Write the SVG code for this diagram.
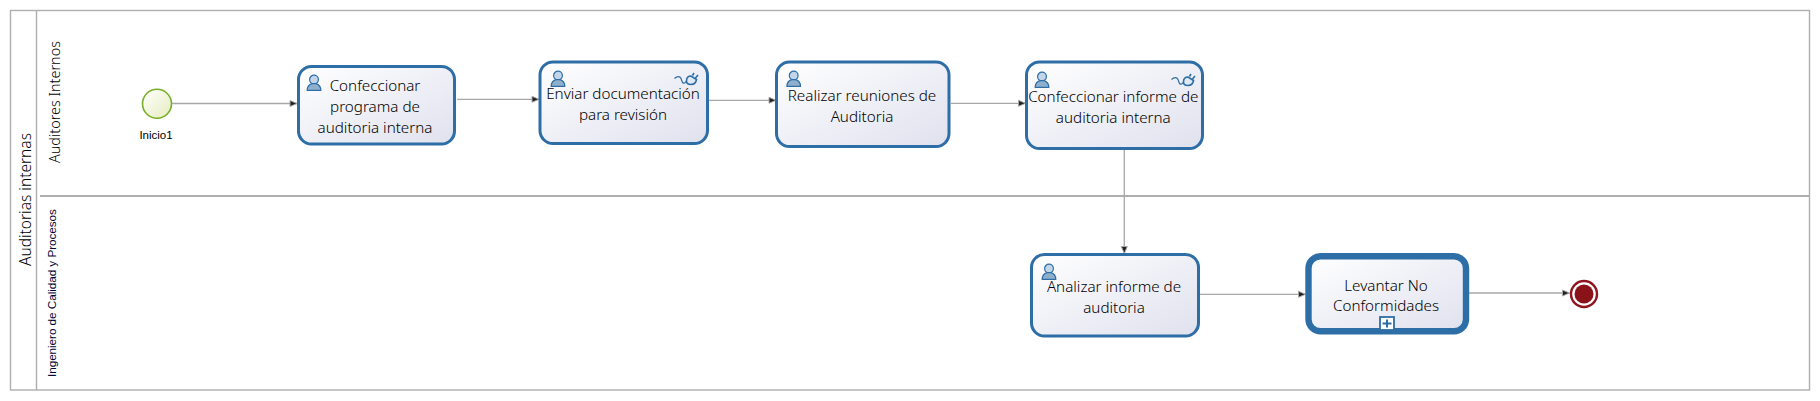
<svg xmlns="http://www.w3.org/2000/svg" xmlns:xlink="http://www.w3.org/1999/xlink" width="1820" height="401" viewBox="0 0 1820 401">
<style>
.lane{fill:none;stroke:#aeaeae;stroke-width:1.4}
.div{fill:none;stroke:#aeaeae;stroke-width:2}
.task{fill:url(#g);stroke:#2e6ea6;stroke-width:3}
.flow{fill:none;stroke:#a8a8a8;stroke-width:1.3;marker-end:url(#arr)}
text{font-family:"Noto Sans","Open Sans","Liberation Sans",sans-serif;fill:#000;font-weight:300}
.t{font-size:15.2px;text-anchor:middle}
.s{font-family:"Liberation Sans",Arial,sans-serif;font-weight:400}
</style>
<defs>
<linearGradient id="g" x1="0" y1="0" x2="1" y2="1"><stop offset="0" stop-color="#ffffff"/><stop offset="1" stop-color="#dfe1ee"/></linearGradient>
<linearGradient id="gs" x1="0" y1="0" x2="1" y2="1"><stop offset="0" stop-color="#ffffff"/><stop offset="1" stop-color="#e6ecbe"/></linearGradient>
<marker id="arr" markerUnits="userSpaceOnUse" markerWidth="10" markerHeight="10" refX="8.500" refY="5" orient="auto"><path d="M1.500 2L8.500 5L1.500 8Z" fill="#222" stroke="#a8a8a8" stroke-width="1"/></marker>
<g id="user"><circle cx="0" cy="4.600" r="4.400" fill="#c3d5e8" stroke="#2e6ea6" stroke-width="1.200"/><path d="M-6.800 15.400C-6.800 11-4 9.200-1.800 8.600H1.800C4 9.200 6.800 11 6.800 15.400Z" fill="#8fb0cc" stroke="#2e6ea6" stroke-width="1.200"/></g>
<g id="plug"><path d="M0.500 5.500C3 3 6 3 7 5.500C8 8 8.500 11 10.500 10C12 9.300 12 8.500 12.500 8" fill="none" stroke="#2e6ea6" stroke-width="1.200"/><path d="M12.500 8C12.500 4.500 14.500 3 17 3L22.500 6.500C22 9.500 20 11.500 17 11.500C14.500 11.500 12.500 10.500 12.500 8Z" fill="#dfe9f3" stroke="#2e6ea6" stroke-width="1.600"/><path d="M18.500 2.500L20 0M21.500 5L24 2" fill="none" stroke="#2e6ea6" stroke-width="1.600"/></g>
</defs>
<g id="pool">
<rect class="lane" x="10.500" y="10.500" width="1799" height="379.500"/>
<path class="lane" d="M36.500 10.500V390"/>
<path class="div" d="M40 196H1809.500"/>
<text transform="translate(31 266) rotate(-90)" font-size="15.500">Auditorias internas</text>
<text transform="translate(60 163) rotate(-90)" font-size="14.400">Auditores Internos</text>
<text class="s" transform="translate(55.500 377) rotate(-90)" font-size="11.800" textLength="168" style="fill:#000030">Ingeniero de Calidad y Procesos</text>
</g>
<g id="connectors">
<path class="flow" d="M172 103.500H297"/>
<path class="flow" d="M457 99.300H539"/>
<path class="flow" d="M709 100.300H776"/>
<path class="flow" d="M951 103.300H1025.500"/>
<path class="flow" d="M1124.300 149V253.500"/>
<path class="flow" d="M1200 294.300H1305.500"/>
<path class="flow" d="M1469 293H1569.500"/>
</g>
<g id="start"><circle cx="157" cy="103.700" r="14.500" fill="url(#gs)" stroke="#7aaf2c" stroke-width="1.600"/><text class="s" x="156" y="139" font-size="11.500" text-anchor="middle">Inicio1</text></g>
<g id="task1"><rect class="task" x="298.500" y="66.500" width="156" height="77.500" rx="13"/><use xlink:href="#user" href="#user" x="314" y="75"/><text class="t" x="375" y="91">Confeccionar</text><text class="t" x="375" y="112">programa de</text><text class="t" x="375" y="133">auditoria interna</text></g>
<g id="task2"><rect class="task" x="540" y="62" width="167.500" height="81.500" rx="13"/><use xlink:href="#user" href="#user" x="558" y="71"/><use xlink:href="#plug" href="#plug" x="674" y="73"/><text class="t" x="623" y="99.300">Enviar documentación</text><text class="t" x="623" y="120">para revisión</text></g>
<g id="task3"><rect class="task" x="776.500" y="62" width="172.500" height="84.500" rx="13"/><use xlink:href="#user" href="#user" x="793.700" y="71"/><text class="t" x="862" y="101">Realizar reuniones de</text><text class="t" x="862" y="122">Auditoria</text></g>
<g id="task4"><rect class="task" x="1026.500" y="62" width="176" height="86.500" rx="13"/><use xlink:href="#user" href="#user" x="1042" y="72"/><use xlink:href="#plug" href="#plug" x="1171" y="74"/><text class="t" x="1113.300" y="102">Confeccionar informe de</text><text class="t" x="1113.300" y="122.700">auditoria interna</text></g>
<g id="task5"><rect class="task" x="1031.500" y="254.500" width="167" height="81.500" rx="13"/><use xlink:href="#user" href="#user" x="1049" y="264"/><text class="t" x="1114" y="292">Analizar informe de</text><text class="t" x="1114" y="312.700">auditoria</text></g>
<g id="task6"><rect class="task" x="1308.500" y="256.300" width="157.500" height="75" rx="12" style="stroke-width:6.400"/><text class="t" x="1386" y="290.700">Levantar No</text><text class="t" x="1386" y="310.700">Conformidades</text><rect x="1380" y="317" width="14" height="13" fill="#fff" stroke="#2e6ea6" stroke-width="1.800"/><path d="M1387 319.500V327.500M1382.500 323.500H1391.500" fill="none" stroke="#2e6ea6" stroke-width="2"/></g>
<g id="end"><circle cx="1584" cy="294" r="13" fill="#fff" stroke="#8f1520" stroke-width="2.400"/><circle cx="1584" cy="294" r="9.500" fill="#8a1219"/></g>
</svg>
